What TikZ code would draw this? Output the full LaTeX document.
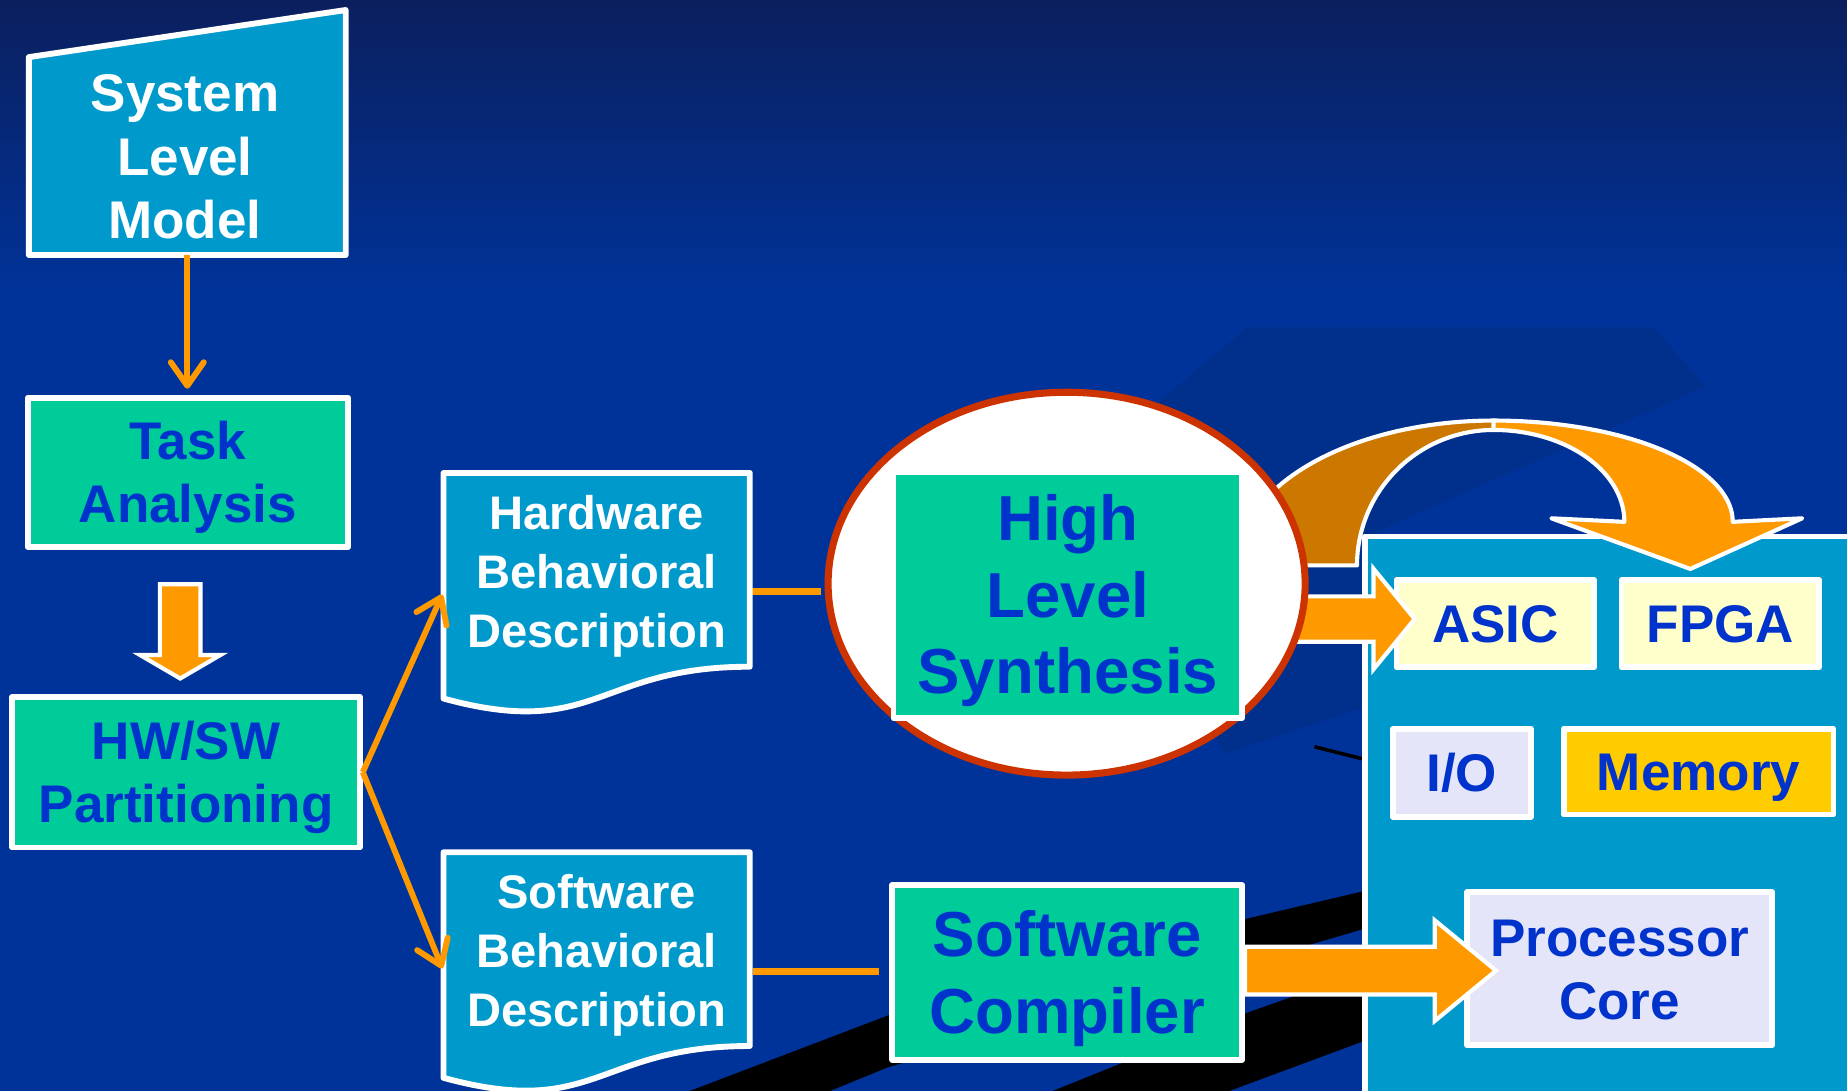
\documentclass[tikz,border=0pt]{standalone}
\usepackage{fontspec}
\setmainfont{Liberation Sans}
\usetikzlibrary{shapes.geometric,arrows.meta,calc}

\definecolor{bgblue}{HTML}{003399}
\definecolor{bgtop}{HTML}{0B1F5E}
\definecolor{bgdark}{HTML}{012F8C}
\definecolor{docblue}{HTML}{0099CC}
\definecolor{boxgreen}{HTML}{00CC99}
\definecolor{txtblue}{HTML}{0033CC}
\definecolor{arrorange}{HTML}{FF9900}
\definecolor{arrbrown}{HTML}{CC7700}
\definecolor{ringred}{HTML}{CC3300}
\definecolor{paleyellow}{HTML}{FFFFCC}
\definecolor{lavender}{HTML}{E5E5FA}
\definecolor{memgold}{HTML}{FFCC00}

% every text line gets the same height and depth, so caps sit centred
\newcommand\lnstrut{\rule[-0.2em]{0pt}{1.116em}}
\newcommand\fmid{\fontsize{45bp}{54bp}\selectfont\bfseries}
\newcommand\fdoc{\fontsize{40bp}{50bp}\selectfont\bfseries}
\newcommand\fbig{\fontsize{54bp}{65bp}\selectfont\bfseries}

% document outline with a wavy lower edge, around a holder node
\newcommand\docshape[1]{%
  \draw[frame, fill=docblue]
    ($(#1.center)+(-130,-101)$) -- ($(#1.center)+(130,-101)$)
    -- ($(#1.center)+(130,63.5)$)
    .. controls ($(#1.center)+(0,63.5)$) and ($(#1.center)+(0,126)$) ..
    ($(#1.center)+(-130,90.5)$) -- cycle;}

\begin{document}
\begin{tikzpicture}[x=1bp,y=-1bp,
  frame/.style={draw=white, line width=5bp, line join=round},
  boxnode/.style={frame, inner sep=0pt, align=center},
  greenbox/.style={boxnode, fill=boxgreen, text=txtblue},
  chipbox/.style={boxnode, text=txtblue, font=\fmid},
  holder/.style={inner sep=0pt, outer sep=0pt},
  whitetext/.style={inner sep=0pt, align=center, text=white},
  thinarrow/.style={draw=arrorange, line width=5bp, -{Straight Barb[length=20bp,width=28bp,round]}},
  link/.style={draw=arrorange, line width=6bp},
  blockarrow/.style={draw=white, line width=3.5bp, fill=arrorange, line join=miter},
  bendband/.style={draw=white, line width=3.5bp, line join=round},
]
\useasboundingbox (0,0) rectangle (1568,926);
\clip (0,0) rectangle (1568,926);

% background
\fill[bgblue] (0,0) rectangle (1568,926);
\shade[top color=bgtop, bottom color=bgblue] (0,0) rectangle (1568,250);
\fill[bgdark] (1059,278) -- (1404,278) -- (1448,328) -- (1160,455) -- (1160,600)
  -- (1040,640) -- (900,420) -- (985,340) -- cycle;
\fill[black] (586,926) -- (754,862) -- (1058,780) -- (1160,756) -- (1160,788) -- (754,906) -- (705,926) -- cycle;
\fill[black] (894,926) -- (1058,860) -- (1160,824) -- (1160,883) -- (1044,926) -- cycle;
\draw[black, line width=3bp] (1116,634) -- (1160,645);

% target platform panel and its blocks
\node[frame, fill=docblue, inner sep=0pt, minimum width=441.5bp, minimum height=504.5bp] (panel) at (1379.25,707.75) {};
\node[chipbox, fill=paleyellow, minimum width=168bp, minimum height=74bp] (asic) at (1269.5,529.5) {\lnstrut ASIC};
\node[chipbox, fill=paleyellow, minimum width=168bp, minimum height=74bp] (fpga) at (1460.5,529.5) {\lnstrut FPGA};
\node[chipbox, fill=lavender, minimum width=117bp, minimum height=75bp] (io) at (1241,656) {\lnstrut I/O};
\node[chipbox, fill=memgold, minimum width=229bp, minimum height=73bp] (mem) at (1442,655) {\lnstrut Memory};
\node[chipbox, fill=lavender, minimum width=259bp, minimum height=130bp] (proc) at (1375,822.5) {\lnstrut Processor\\\lnstrut Core};

% curved arrow from synthesis over to the FPGA
\draw[bendband, fill=arrbrown]
  plot[domain=180:270, samples=50] ({1268+218*cos(\x)},{480+123*sin(\x)})
  -- plot[domain=270:180, samples=50] ({1268+116*cos(\x)},{480+115*sin(\x)}) -- cycle;
\draw[bendband, fill=arrorange]
  plot[domain=270:360, samples=50] ({1268+203*cos(\x)},{443+86*sin(\x)})
  -- (1530,440) -- (1435,483) -- (1317,440) -- (1379,443)
  -- plot[domain=360:270, samples=50] ({1268+111*cos(\x)},{443+78*sin(\x)}) -- cycle;

% block arrow into the ASIC, its shaft tucked under the ring
\coordinate (ringc) at (905.5,495.5);
\coordinate (aT) at ($(asic.west)+(18,-4)$);
\coordinate (aS) at (ringc |- aT);
\draw[blockarrow] ($(aS)+(0,-19.25)$) -- ($(aT)+(-35,-19.25)$) -- ($(aT)+(-35,-42.75)$)
  -- (aT) -- ($(aT)+(-35,42.75)$) -- ($(aT)+(-35,19.25)$) -- ($(aS)+(0,19.25)$) -- cycle;

% synthesis ring
\node[draw=ringred, line width=6bp, fill=white, ellipse, inner sep=0pt,
      minimum width=405bp, minimum height=325bp] (hlsring) at (ringc) {};
\node[greenbox, font=\fbig, minimum width=296bp, minimum height=209bp] (hls) at (906.5,505)
  {\lnstrut High\\\lnstrut Level\\\lnstrut Synthesis};

% system level model (slanted top)
\node[holder, minimum width=269bp, minimum height=168bp] (slm) at (159,132.5) {};
\draw[frame, fill=docblue] (slm.south west) -- (slm.south east)
  -- ($(slm.north east)+(0,-40)$) -- (slm.north west) -- cycle;
\node[whitetext, font=\fmid] (slmtext) at ($(slm.center)+(-2,0)$)
  {\lnstrut System\\\lnstrut Level\\\lnstrut Model};

\node[greenbox, font=\fmid, minimum width=272bp, minimum height=127bp] (task) at (159.5,401)
  {\lnstrut Task\\\lnstrut Analysis};
\node[greenbox, font=\fmid, minimum width=295bp, minimum height=128bp] (part) at (158,655.5)
  {\lnstrut HW/SW\\\lnstrut Partitioning};

\draw[thinarrow, shorten >=5bp] (slm.south) -- (slm.south |- task.north);

\coordinate (tdA) at ($(task.south)+(-6.5,29)$);
\coordinate (tdB) at ($(part.north)+(-5,-13)$);
\draw[blockarrow] ($(tdA)+(-17.25,0)$) -- ($(tdA)+(17.25,0)$) -- ($(tdB)+(17.25,-20)$)
  -- ($(tdB)+(34.25,-20)$) -- (tdB) -- ($(tdB)+(-34.25,-20)$) -- ($(tdB)+(-17.25,-20)$) -- cycle;

% behavioral descriptions
\node[holder, minimum width=260bp, minimum height=202bp] (hwdoc) at (506.5,502.5) {};
\node[holder, minimum width=260bp, minimum height=202bp] (swdoc) at (506.5,824.5) {};
\draw[link, shorten >=3bp] (hwdoc.east) -- (hwdoc.east -| hlsring.west);
\docshape{hwdoc}
\docshape{swdoc}
\node[whitetext, font=\fdoc] (hwtext) at ($(hwdoc.center)+(0,-17)$)
  {\lnstrut Hardware\\\lnstrut Behavioral\\\lnstrut Description};
\node[whitetext, font=\fdoc] (swtext) at ($(swdoc.center)+(0,-17)$)
  {\lnstrut Software\\\lnstrut Behavioral\\\lnstrut Description};

\draw[thinarrow, shorten >=2.5bp] (part.east) -- (hwdoc.west);
\draw[thinarrow, shorten >=2.5bp] (part.east) -- (swdoc.west);

% software path
\node[greenbox, font=\fbig, minimum width=297bp, minimum height=148bp] (comp) at (906,825.5)
  {\lnstrut Software\\\lnstrut Compiler};
\draw[link, shorten <=2.5bp, shorten >=9bp] (swdoc.east) -- (swdoc.east -| comp.west);

\coordinate (pT) at ($(proc.west)+(27,1.5)$);
\coordinate (pS) at (comp.east |- pT);
\draw[blockarrow] ($(pS)+(0,-20.25)$) -- ($(pT)+(-52,-20.25)$) -- ($(pT)+(-52,-42.75)$)
  -- (pT) -- ($(pT)+(-52,42.75)$) -- ($(pT)+(-52,20.25)$) -- ($(pS)+(0,20.25)$) -- cycle;
\end{tikzpicture}
\end{document}
